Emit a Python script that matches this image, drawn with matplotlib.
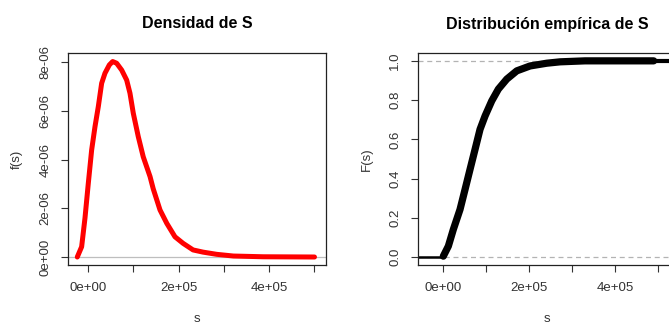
import matplotlib
matplotlib.use("Agg")
import matplotlib.pyplot as plt
import numpy as np

plt.rcParams['font.family'] = ['Liberation Sans', 'DejaVu Sans']

# Density of S
dens_s = [-23600, -14000, -6600, 700, 8100, 15500, 22800, 30200, 37500, 47100,
          54500, 63300, 74400, 85400, 92700, 100000, 111000, 122000, 137000, 144000,
          159000, 174000, 192000, 210000, 232000, 254000, 284000, 321000, 387000, 500000]
dens_f = [0.0, 0.42e-6, 1.6e-6, 3.02e-6, 4.39e-6, 5.35e-6, 6.17e-6, 7.13e-6, 7.54e-6, 7.88e-6,
          8.02e-6, 7.95e-6, 7.67e-6, 7.26e-6, 6.72e-6, 5.9e-6, 4.94e-6, 4.11e-6, 3.3e-6, 2.8e-6,
          1.93e-6, 1.38e-6, 0.83e-6, 0.56e-6, 0.29e-6, 0.2e-6, 0.11e-6, 0.04e-6, 0.01e-6, 0.0]

# Empirical distribution of S
ecdf_s = [0, 11700, 23300, 38900, 50600, 62200, 73900, 85500, 97200, 112800,
          128200, 147800, 171100, 202100, 241000, 272000, 330000, 490000]
ecdf_F = [0.005, 0.056, 0.141, 0.243, 0.345, 0.447, 0.549, 0.651, 0.719, 0.796,
          0.856, 0.907, 0.949, 0.974, 0.988, 0.995, 1.0, 1.0]

x_ticks = [0, 100000, 200000, 300000, 400000, 500000]
x1_labels = ['0e+00', '', '2e+05', '', '4e+05', '']
x2_labels = ['0e+00', '', '2e+05', '', '4e+05', '']
y1_ticks = [0, 2e-6, 4e-6, 6e-6, 8e-6]
y1_labels = ['0e+00', '2e-06', '4e-06', '6e-06', '8e-06']
y2_ticks = [0.0, 0.2, 0.4, 0.6, 0.8, 1.0]
y2_labels = ['0.0', '0.2', '0.4', '0.6', '0.8', '1.0']

W, H = 669, 324
fig = plt.figure(figsize=(W / 100, H / 100), dpi=100)

def pos(l, t, r, b):
    return [l / W, 1 - b / H, (r - l) / W, (b - t) / H]

ax1 = fig.add_axes(pos(68, 53, 326, 265))
ax2 = fig.add_axes(pos(418, 53, 676, 265))

tick_fs = 9.5
for ax in (ax1, ax2):
    ax.tick_params(direction='out', length=5, width=0.8, colors='#333333',
                   labelsize=tick_fs, pad=7)
    for sp in ax.spines.values():
        sp.set_color('#222222')
        sp.set_linewidth(0.9)

# Left panel
ax1.axhline(0, color='#bebebe', lw=0.9, zorder=1)
ax1.plot(dens_s, dens_f, color='#ff0000', lw=3.6, solid_capstyle='round',
         solid_joinstyle='round', zorder=2)
ax1.set_xlim(-44100, 525400)
ax1.set_ylim(-0.328e-6, 8.37e-6)
ax1.set_xticks(x_ticks)
ax1.set_xticklabels(x1_labels)
ax1.set_yticks(y1_ticks)
ax1.set_yticklabels(y1_labels, rotation=90, va='center')
ax1.set_ylabel('f(s)', fontsize=tick_fs, color='#333333', labelpad=12)

# Right panel
ax2.axhline(0, color='#b3b3b3', lw=0.9, ls=(0, (4, 3)), zorder=1)
ax2.axhline(1, color='#b3b3b3', lw=0.9, ls=(0, (4, 3)), zorder=1)
ax2.plot([-70000, ecdf_s[0]], [0, 0], color='black', lw=1.8, zorder=2)
ax2.plot(ecdf_s, ecdf_F, color='black', lw=5.2, solid_capstyle='round',
         solid_joinstyle='round', zorder=3)
ax2.plot([ecdf_s[-1], 700000], [1, 1], color='black', lw=3, zorder=3)
ax2.set_xlim(-59000, 542000)
ax2.set_ylim(-0.04, 1.04)
ax2.set_xticks(x_ticks)
ax2.set_xticklabels(x2_labels)
ax2.set_yticks(y2_ticks)
ax2.set_yticklabels(y2_labels, rotation=90, va='center')
ax2.set_ylabel('F(s)', fontsize=tick_fs, color='#333333', labelpad=12)

for ax in (ax1, ax2):
    ax.set_xlabel('s', fontsize=tick_fs, color='#333333', labelpad=14)

fig.text((68 + 326) / 2 / W, 1 - 24 / H, 'Densidad de S', ha='center', va='center',
         fontsize=11.5, fontweight='bold')
fig.text((418 + 676) / 2 / W, 1 - 24 / H, 'Distribución empírica de S', ha='center',
         va='center', fontsize=11.5, fontweight='bold')

fig.savefig('out.png', dpi=100)
